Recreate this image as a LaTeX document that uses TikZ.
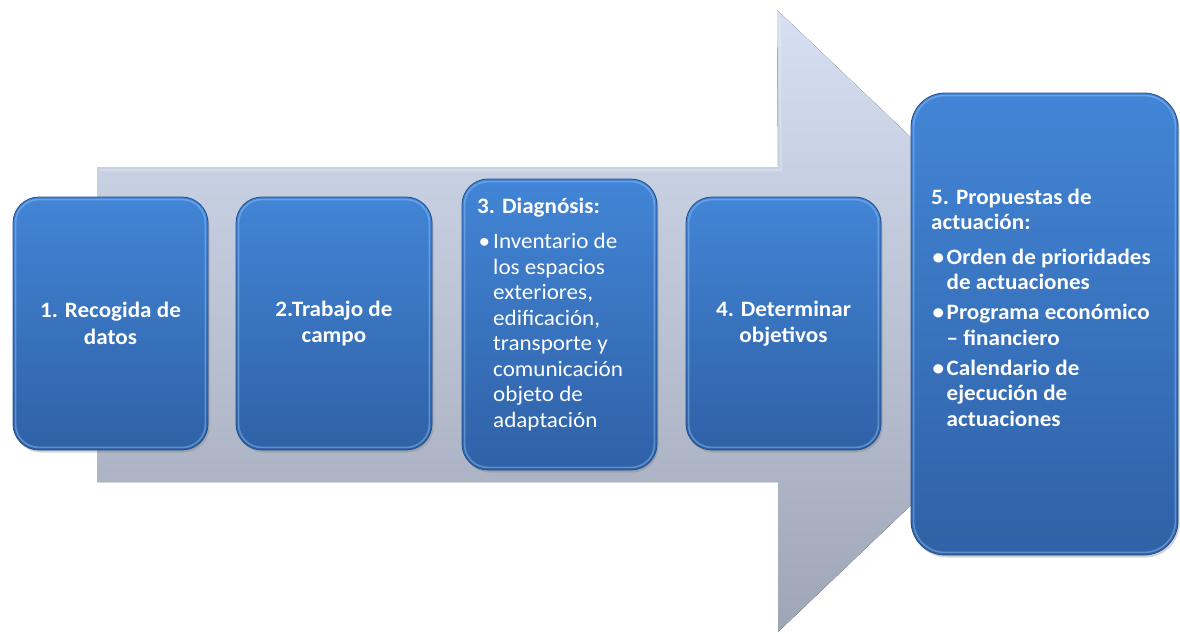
\documentclass[tikz,border=0pt]{standalone}
\usepackage{fontspec}
\setmainfont{Carlito}[FakeStretch=1.05]
\usetikzlibrary{shadows}
\definecolor{boxtop}{RGB}{66,133,214}
\definecolor{boxbot}{RGB}{47,97,166}
\definecolor{boxedge}{RGB}{36,78,140}
\definecolor{rimcol}{RGB}{150,198,250}
\definecolor{arrtop}{RGB}{214,224,242}
\definecolor{arrbot}{RGB}{158,165,182}
\newcommand{\blt}{\hspace{1.5pt}•}
\begin{document}
\begin{tikzpicture}[x=1pt,y=1pt,
  box/.style={rounded corners=26pt, top color=boxtop, bottom color=boxbot,
    draw=boxedge, line width=0.8pt,
    drop shadow={opacity=0.35, shadow xshift=1.5pt, shadow yshift=-2.5pt},
    inner sep=0pt, text=white, align=center,
    font=\fontsize{22}{26.5}\selectfont\bfseries},
  rim/.style={draw=rimcol, line width=1.6pt, opacity=0.45},
  txt/.style={text=white, inner sep=0pt, align=left, font=\fontsize{22}{25.5}\selectfont},
  arrowbg/.style={top color=arrtop, bottom color=arrbot}]
\useasboundingbox (0,0) rectangle (1180,-633);
% big background arrow
\fill[arrowbg] (97,-167) -- (778,-167) -- (777,-10) -- (1104,-321) -- (778,-632)
  -- (778,-482) -- (97,-482) -- cycle;
\draw[white, opacity=0.25, line width=1.5pt] (100,-170) -- (781,-170) -- (780,-17);
% boxes
\node[box, minimum width=195pt, minimum height=253pt] (b1) at (110.5,-323.5) {1. Recogida de\\datos};
\node[box, minimum width=196pt, minimum height=253pt] (b2) at (334,-323.5) {2.Trabajo de\\campo};
\node[box, minimum width=195pt, minimum height=291pt] (b3) at (559.5,-324.5) {};
\node[box, minimum width=195pt, minimum height=253pt] (b4) at (783.5,-323.5) {4. Determinar\\objetivos};
\node[box, rounded corners=34pt, minimum width=267pt, minimum height=462pt] (b5) at (1044.5,-324) {};
% bevel rims
\foreach \b in {b1,b2,b3,b4}
  \draw[rim, rounded corners=23pt] ([shift={(3pt,3pt)}]\b.south west) rectangle ([shift={(-3pt,-3pt)}]\b.north east);
\draw[rim, rounded corners=31pt] ([shift={(3pt,3pt)}]b5.south west) rectangle ([shift={(-3pt,-3pt)}]b5.north east);
% text of box 3
\node[txt, anchor=north west] (t3) at (477,-195) {%
  \begin{tabular}{@{}l@{\hspace{3pt}}l@{}}
  \multicolumn{2}{@{}l@{}}{\bfseries 3. Diagnósis:}\\[10pt]
  \blt & Inventario de\\
    & los espacios\\
    & exteriores,\\
    & edificación,\\
    & transporte y\\
    & comunicación\\
    & objeto de\\
    & adaptación
  \end{tabular}};
% text of box 5
\node[txt, anchor=north west, font=\fontsize{22}{25.5}\selectfont\bfseries] (t5) at (931,-186) {%
  \begin{tabular}{@{}l@{\hspace{2.5pt}}l@{}}
  \multicolumn{2}{@{}l@{}}{5. Propuestas de}\\
  \multicolumn{2}{@{}l@{}}{actuación:}\\[9pt]
  \blt & Orden de prioridades\\
    & de actuaciones\\[4.5pt]
  \blt & Programa económico\\
    & – financiero\\[4.5pt]
  \blt & Calendario de\\
    & ejecución de\\
    & actuaciones
  \end{tabular}};
\end{tikzpicture}
\end{document}
